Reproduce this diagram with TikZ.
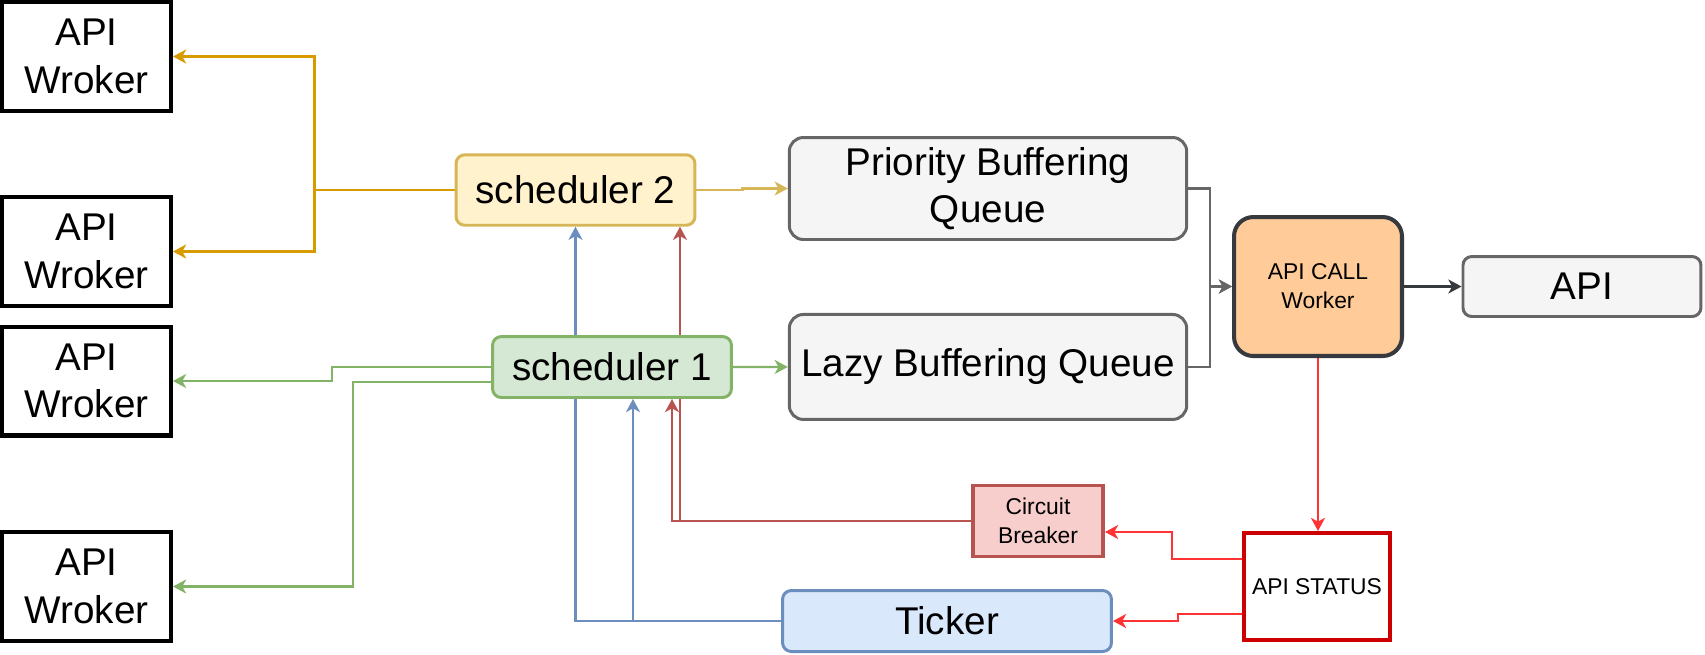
\documentclass[tikz,border=0pt]{standalone}
\usepackage{fontspec}
\setmainfont{Liberation Sans}
\usepackage{xcolor}
\usetikzlibrary{arrows.meta, positioning, backgrounds, calc}

\definecolor{yelFill}{HTML}{FFF2CC}
\definecolor{yelLine}{HTML}{D6B656}
\definecolor{orgLine}{HTML}{D79B00}
\definecolor{grnFill}{HTML}{D5E8D4}
\definecolor{grnLine}{HTML}{82B366}
\definecolor{gryFill}{HTML}{F5F5F5}
\definecolor{gryLine}{HTML}{666666}
\definecolor{callFill}{HTML}{FFCC99}
\definecolor{dkLine}{HTML}{36393D}
\definecolor{brkFill}{HTML}{F8CECC}
\definecolor{brkLine}{HTML}{B85450}
\definecolor{bluFill}{HTML}{DAE8FC}
\definecolor{bluLine}{HTML}{6C8EBF}
\definecolor{redLine}{HTML}{FF3333}
\definecolor{statLine}{HTML}{CC0000}

\begin{document}
\begin{tikzpicture}[
  x=0.02cm, y=-0.02cm,
  big/.style      = {font=\fontsize{22}{27}\selectfont},
  small/.style    = {font=\fontsize{13}{16.5}\selectfont},
  worker/.style   = {rectangle, draw=black, line width=2.3pt, fill=white,
                     minimum width=3.38cm, minimum height=2.18cm,
                     align=center, big},
  sched/.style    = {rectangle, rounded corners=5pt, line width=1.7pt,
                     minimum width=4.78cm, minimum height=1.41cm,
                     align=center, big},
  queue/.style    = {rectangle, rounded corners=8pt, draw=gryLine, fill=gryFill,
                     line width=1.7pt, minimum width=7.95cm, minimum height=2.07cm,
                     align=center, big},
  callbox/.style  = {rectangle, rounded corners=11pt, draw=dkLine, fill=callFill,
                     line width=2.3pt, minimum width=3.36cm, minimum height=2.78cm,
                     align=center, small},
  cbbox/.style    = {rectangle, draw=brkLine, fill=brkFill, line width=2pt,
                     minimum width=2.61cm, minimum height=1.42cm,
                     align=center, small},
  statusbox/.style= {rectangle, draw=statLine, fill=white, line width=2.3pt,
                     minimum width=2.92cm, minimum height=2.14cm,
                     align=center, small},
  tickbox/.style  = {rectangle, rounded corners=5pt, draw=bluLine, fill=bluFill,
                     line width=1.7pt, minimum width=6.58cm, minimum height=1.22cm,
                     align=center, big},
  arr/.style      = {-{Stealth[length=7.5pt, width=8pt, inset=2.2pt]}, line width=1.2pt}
]
\useasboundingbox (0,0) rectangle (1705,654);

% ── Workers ──────────────────────────────────────────────────────────────────
\node[worker] (w1) at (86.5,56.5)  {API\\Wroker};
\node[worker] (w2) at (86.5,251.5) {API\\Wroker};
\node[worker] (w3) at (86.5,381)   {API\\Wroker};
\node[worker] (w4) at (86.5,586.5) {API\\Wroker};

% ── Schedulers ───────────────────────────────────────────────────────────────
\node[sched, draw=yelLine, fill=yelFill] (s2) at (575.5,190) {scheduler 2};
\node[sched, draw=grnLine, fill=grnFill, minimum height=1.22cm] (s1) at (612,367) {scheduler 1};

% ── Queues, call worker, API ─────────────────────────────────────────────────
\node[queue, minimum height=2.04cm] (prio) at (988,188.5) {Priority Buffering\\Queue};
\node[queue, below=1.44cm of prio, minimum height=2.1cm] (lazy) {Lazy Buffering Queue};
\node[callbox] (acw) at (1318,286.5) {API CALL\\Worker};
\node[queue, right=1.15cm of acw, minimum width=4.76cm, minimum height=1.2cm,
      rounded corners=5pt] (api) {API};

% ── Status, breaker, ticker ──────────────────────────────────────────────────
\node[cbbox]     (cb)     at (1038,521)  {Circuit\\Breaker};
\node[statusbox] (status) at (1317,586.5) {API STATUS};
\node[tickbox]   (ticker) at (947,621)   {Ticker};

\begin{scope}[on background layer]
% ── scheduler 2 ──────────────────────────────────────────────────────────────
\draw[arr, orgLine] (s2.west) -- ++(-140,0) |- (w1.east);
\draw[arr, orgLine] (s2.west) -- ++(-140,0) |- (w2.east);
\draw[arr, yelLine] (s2.east) -- ++(46,0) |- (prio.west);

% ── scheduler 1 ──────────────────────────────────────────────────────────────
\draw[arr, grnLine] (s1.west) -- ++(-159,0) |- (w3.east);
\draw[arr, grnLine] ([yshift=-0.3cm]s1.west) -- ++(-138,0) |- (w4.east);
\draw[arr, grnLine] (s1.east) -- (lazy.west);

% ── Queues -> call worker -> API ─────────────────────────────────────────────
\draw[arr, gryLine] (prio.east) -- ++(22,0) |- (acw.west);
\draw[arr, gryLine] (lazy.east) -- ++(22,0) |- (acw.west);
\draw[arr, dkLine]  (acw.east) -- (api.west);

% ── Status feedback ──────────────────────────────────────────────────────────
\draw[arr, redLine] (acw.south) -- (acw.south |- status.north);
\draw[arr, redLine] ([yshift=0.55cm]status.west) -- ++(-70,0) |- ([yshift=-0.22cm]cb.east);
\draw[arr, redLine] ([yshift=-0.55cm]status.west) -- ++(-64,0) |- (ticker.east);

% ── Breaker / ticker -> schedulers ───────────────────────────────────────────
\draw[arr, brkLine] (cb.west) -| ([xshift=1.2cm]s1.south);
\draw[arr, brkLine] (cb.west) -| ([xshift=2.09cm]s2.south);
\draw[arr, bluLine] (ticker.west) -| (s2.south);
\draw[arr, bluLine] (ticker.west) -| ([xshift=0.42cm]s1.south);
\end{scope}
\end{tikzpicture}
\end{document}
